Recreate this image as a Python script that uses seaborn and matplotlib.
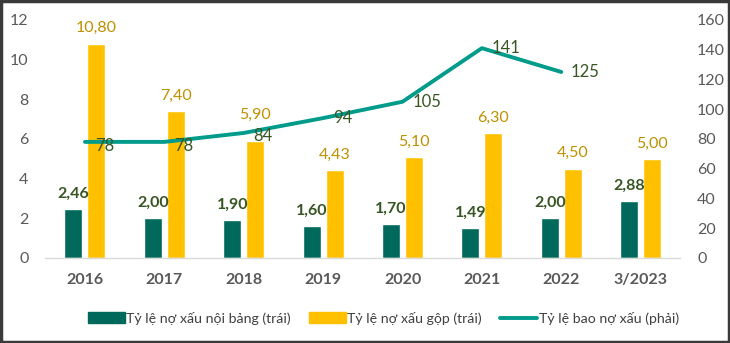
import matplotlib
matplotlib.use("Agg")
import matplotlib.pyplot as plt
import seaborn as sns
import pandas as pd
from matplotlib.patches import Rectangle
from matplotlib.lines import Line2D

categories = ["2016", "2017", "2018", "2019", "2020", "2021", "2022", "3/2023"]
noi_bang = [2.46, 2.00, 1.90, 1.60, 1.70, 1.49, 2.00, 2.88]
gop = [10.80, 7.40, 5.90, 4.43, 5.10, 6.30, 4.50, 5.00]
bao_no = [78, 78, 84, 94, 105, 141, 125]

s1 = "Tỷ lệ nợ xấu nội bảng (trái)"
s2 = "Tỷ lệ nợ xấu gộp (trái)"
s3 = "Tỷ lệ bao nợ xấu (phải)"

c_dark = "#00695C"
c_yel = "#FFC000"
c_line = "#009B8A"
c_lab_dark = "#375623"
c_lab_yel = "#BF9000"
c_tick = "#595959"

sns.set_theme(style="white")
plt.rcParams['font.family'] = ['Lato', 'Open Sans', 'DejaVu Sans']

df = pd.DataFrame({
    "cat": categories * 2,
    "val": noi_bang + gop,
    "series": [s1] * len(categories) + [s2] * len(categories),
})
dfl = pd.DataFrame({"idx": list(range(len(bao_no))), "val": bao_no})

fig = plt.figure(figsize=(7.3, 3.43), dpi=100)
ax = fig.add_axes([0.062, 0.248, 0.870, 0.694])
sns.barplot(data=df, x="cat", y="val", hue="series", order=categories,
            palette=[c_dark, c_yel], width=0.58, gap=0.22, ax=ax,
            legend=False, saturation=1)
ax.set_ylim(0, 12)
ax.set_xlim(-0.5, len(categories) - 0.5)
ax.set_yticks(range(0, 13, 2))
ax.set_xlabel("")
ax.set_ylabel("")

for i, v in enumerate(noi_bang):
    ax.annotate(f"{v:.2f}".replace(".", ","), (i - 0.145, v), xytext=(0, 6),
                textcoords="offset points", ha="center", va="bottom",
                color=c_lab_dark, fontsize=11.5, fontweight="bold")
for i, v in enumerate(gop):
    oy = 14 if i == 2 else 6
    ax.annotate(f"{v:.2f}".replace(".", ","), (i + 0.145, v), xytext=(0, oy),
                textcoords="offset points", ha="center", va="bottom",
                color=c_lab_yel, fontsize=11.5)

ax2 = ax.twinx()
sns.lineplot(data=dfl, x="idx", y="val", color=c_line, linewidth=2.8, ax=ax2)
ax2.set_ylim(0, 160)
ax2.set_yticks(range(0, 161, 20))
ax2.set_xlim(-0.5, len(categories) - 0.5)
ax2.set_xlabel("")
ax2.set_ylabel("")
for i, v in enumerate(bao_no):
    dy = -3 if i < 2 else (-2 if i == 2 else 0)
    ax2.annotate(str(v), (i, v), xytext=(7, dy), textcoords="offset points",
                 ha="left", va="center", color=c_lab_dark, fontsize=12)

for a in (ax, ax2):
    for side in ("top", "left", "right", "bottom"):
        a.spines[side].set_visible(False)
    a.tick_params(length=0, colors=c_tick, labelsize=11.5)
ax.spines["bottom"].set_visible(True)
ax.spines["bottom"].set_color("#D9D9D9")
ax.spines["bottom"].set_linewidth(1)
ax.tick_params(axis="x", pad=11)
ax.tick_params(axis="y", pad=12)
ax2.tick_params(axis="y", pad=12)
for t in ax.get_xticklabels():
    t.set_fontweight("bold")
    t.set_color(c_tick)

handles = [Rectangle((0, 0), 1, 1, color=c_dark),
           Rectangle((0, 0), 1, 1, color=c_yel),
           Line2D([0], [0], color=c_line, linewidth=2.8)]
fig.legend(handles, [s1, s2, s3], loc="center", bbox_to_anchor=(0.525, 0.072),
           ncol=3, frameon=False, fontsize=10.2, labelcolor="#404040",
           handlelength=2.6, handleheight=0.8, handletextpad=0.1,
           columnspacing=1.3)

fig.add_artist(Rectangle((0.002, 0.003), 0.996, 0.994, transform=fig.transFigure,
                         fill=False, edgecolor="#3A3A3A", linewidth=2.5))

fig.savefig("out.png", dpi=100)
